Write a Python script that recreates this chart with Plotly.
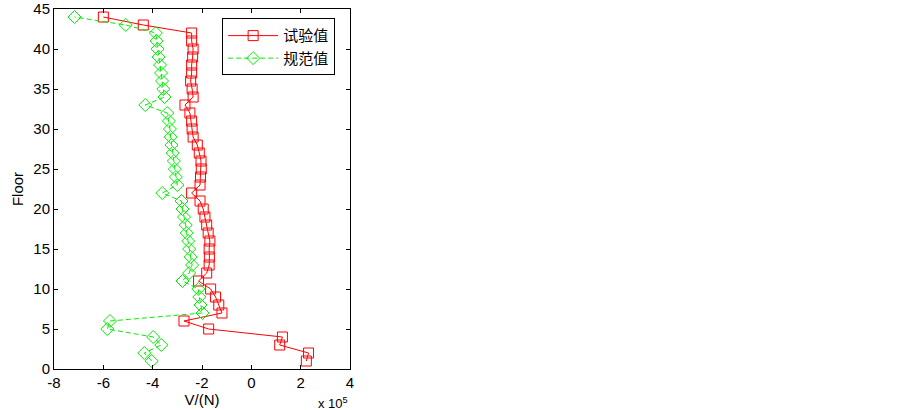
import plotly.graph_objects as go

floors = list(range(1, 45))
# values in units of 1e5 N
test_vals = [2.23, 2.32, 1.15, 1.26, -1.73, -2.73, -1.19, -1.32, -1.45, -1.65,
             -2.14, -1.81, -1.71, -1.70, -1.71, -1.68, -1.75, -1.81, -1.88, -1.95,
             -2.08, -2.42, -2.08, -2.06, -2.03, -2.04, -2.11, -2.19, -2.36, -2.40,
             -2.42, -2.49, -2.69, -2.36, -2.40, -2.46, -2.42, -2.42, -2.38, -2.36,
             -2.42, -2.42, -4.38, -6.00]
code_vals = [-4.04, -4.34, -3.65, -3.98, -5.84, -5.73, -1.98, -2.06, -2.11, -2.15,
             -2.79, -2.52, -2.40, -2.46, -2.52, -2.56, -2.62, -2.66, -2.73, -2.79,
             -2.83, -3.61, -3.00, -3.06, -3.10, -3.14, -3.19, -3.24, -3.27, -3.30,
             -3.34, -3.41, -4.30, -3.52, -3.57, -3.62, -3.66, -3.70, -3.76, -3.80,
             -3.84, -3.87, -5.09, -7.17]
names = ["试验值", "规范值"]
x_ticks = [-8, -6, -4, -2, 0, 2, 4]
y_ticks = [0, 5, 10, 15, 20, 25, 30, 35, 40, 45]

font_family = "Liberation Sans, Arial, sans-serif"

fig = go.Figure()
fig.add_trace(go.Scatter(
    x=test_vals, y=floors, name=names[0], mode="lines+markers",
    line=dict(color="#ff0000", width=1),
    marker=dict(symbol="square-open", size=10, color="#ff0000", line=dict(width=1)),
))
fig.add_trace(go.Scatter(
    x=code_vals, y=floors, name=names[1], mode="lines+markers",
    line=dict(color="#00ee00", width=1, dash="5px,3px"),
    marker=dict(symbol="diamond-open", size=10, color="#00ee00", line=dict(width=1)),
))

axis_common = dict(
    showgrid=False, zeroline=False, showline=True, linecolor="black", linewidth=1,
    mirror="ticks", ticks="inside", ticklen=4, tickcolor="black", automargin=False,
    tickfont=dict(family=font_family, size=15, color="black"),
)
fig.update_xaxes(range=[-8, 4], tickvals=x_ticks, ticktext=[str(v) for v in x_ticks],
                 title=dict(text="V/(N)", font=dict(family=font_family, size=15, color="black"), standoff=2),
                 **axis_common)
fig.update_yaxes(range=[0, 45], tickvals=y_ticks, ticktext=[str(v) for v in y_ticks],
                 title=dict(text="Floor", font=dict(family=font_family, size=15, color="black"), standoff=6),
                 **axis_common)

fig.add_annotation(xref="paper", yref="paper", x=1.0, y=-0.068, xanchor="right", yanchor="top",
                   text="x 10<sup>5</sup>", showarrow=False,
                   font=dict(family=font_family, size=13, color="black"))

fig.update_layout(
    width=903, height=410,
    margin=dict(l=54, r=553, t=9, b=41),
    paper_bgcolor="white", plot_bgcolor="white",
    showlegend=True,
    legend=dict(x=0.568, y=0.974, xanchor="left", yanchor="top",
                bordercolor="black", borderwidth=1, bgcolor="white",
                font=dict(family="Noto Sans CJK SC", size=15, color="black"),
                tracegroupgap=0, itemwidth=50),
)

fig.write_html("out.html", post_script="document.body.style.margin='0';",
               config={"displayModeBar": False})
